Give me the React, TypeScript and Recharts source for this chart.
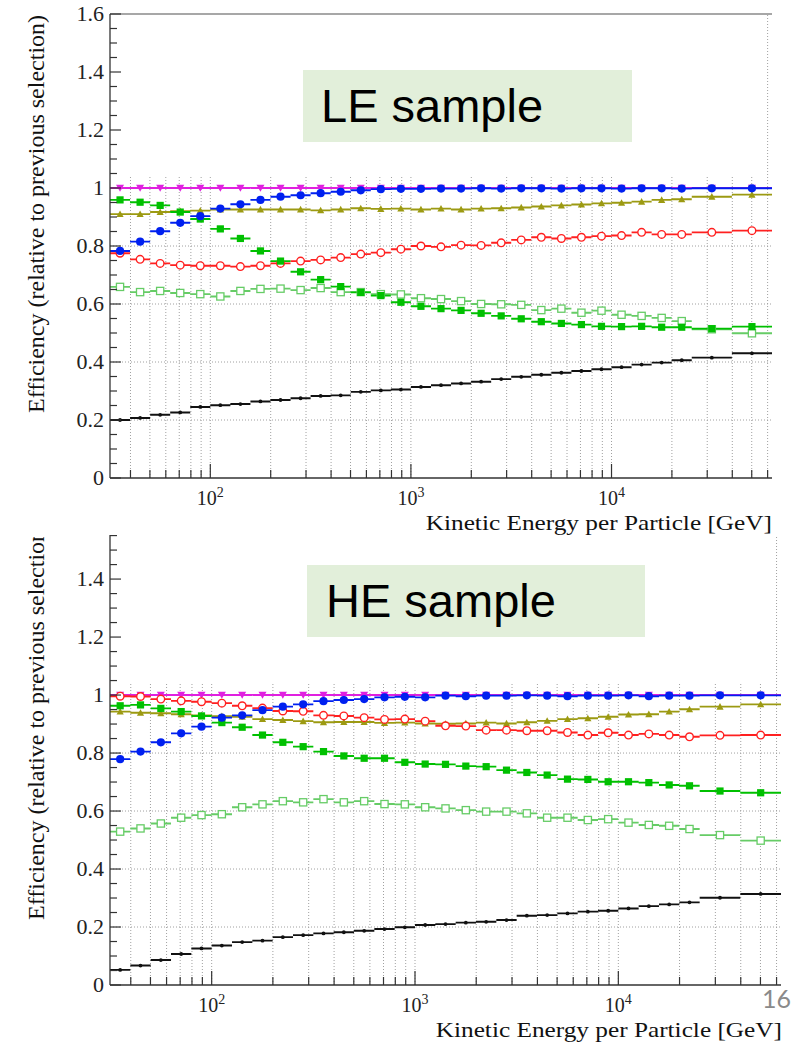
import React from 'react';
import { ComposedChart, Line, Scatter, XAxis, YAxis, ReferenceLine } from 'recharts';

// energy bins [GeV]: 0.1 decade wide, the last two are 0.2 decade wide
const BIN_EDGES = [
  31.62, 39.81, 50.12, 63.1, 79.43, 100, 125.9, 158.5, 199.5, 251.2, 316.2, 398.1, 501.2, 631.0, 794.3,
  1000, 1259, 1585, 1995, 2512, 3162, 3981, 5012, 6310, 7943, 10000, 12589, 15849, 19953, 25119, 39811, 63096,
];
const X_MIN = 31.62;
const X_MAX = 63096;

const X_TICKS = [
  40, 50, 60, 70, 80, 90, 100, 200, 300, 400, 500, 600, 700, 800, 900, 1000, 2000, 3000, 4000, 5000,
  6000, 7000, 8000, 9000, 10000, 20000, 30000, 40000, 50000, 60000,
];
const Y_TICKS_LE = [
  0, 0.05, 0.1, 0.15, 0.2, 0.25, 0.3, 0.35, 0.4, 0.45, 0.5, 0.55, 0.6, 0.65, 0.7, 0.75, 0.8, 0.85, 0.9,
  0.95, 1, 1.05, 1.1, 1.15, 1.2, 1.25, 1.3, 1.35, 1.4, 1.45, 1.5, 1.55, 1.6,
];
const Y_TICKS_HE = [
  0, 0.05, 0.1, 0.15, 0.2, 0.25, 0.3, 0.35, 0.4, 0.45, 0.5, 0.55, 0.6, 0.65, 0.7, 0.75, 0.8, 0.85, 0.9,
  0.95, 1, 1.05, 1.1, 1.15, 1.2, 1.25, 1.3, 1.35, 1.4, 1.45, 1.5, 1.55,
];
const GRID_Y = [0.2, 0.4, 0.6, 0.8, 1];
const GRID_TOP = 1.04;

// LE sample
const LE_MAGENTA = [1, 1, 1, 1, 1, 1, 1, 1, 1, 1, 1, 1, 1, 1, 1, 1, 1, 1, 1, 1, 1, 1, 1, 1, 1, 1, 1, 1, 1, 1, 1];
const LE_BLUE = [0.783, 0.815, 0.851, 0.88, 0.903, 0.929, 0.944, 0.959, 0.97, 0.975, 0.982, 0.987, 0.992, 0.996, 0.997, 0.997, 0.998, 0.998, 0.999, 0.998, 0.999, 0.999, 0.998, 0.999, 0.999, 0.998, 0.999, 0.999, 0.998, 0.999, 0.999];
const LE_OLIVE = [0.91, 0.91, 0.917, 0.92, 0.922, 0.926, 0.926, 0.926, 0.926, 0.926, 0.923, 0.926, 0.93, 0.928, 0.929, 0.926, 0.929, 0.926, 0.929, 0.93, 0.933, 0.936, 0.94, 0.943, 0.947, 0.949, 0.953, 0.959, 0.961, 0.97, 0.977];
const LE_RED = [0.775, 0.754, 0.74, 0.734, 0.732, 0.732, 0.729, 0.732, 0.74, 0.748, 0.752, 0.76, 0.772, 0.777, 0.789, 0.8, 0.797, 0.803, 0.802, 0.811, 0.821, 0.83, 0.826, 0.83, 0.834, 0.836, 0.847, 0.84, 0.84, 0.847, 0.853];
const LE_GREEN = [0.959, 0.951, 0.94, 0.917, 0.893, 0.859, 0.826, 0.783, 0.748, 0.711, 0.684, 0.66, 0.64, 0.629, 0.606, 0.592, 0.584, 0.578, 0.568, 0.559, 0.549, 0.539, 0.533, 0.529, 0.523, 0.522, 0.523, 0.52, 0.52, 0.515, 0.522];
const LE_LIGHTGREEN = [0.659, 0.641, 0.645, 0.638, 0.634, 0.626, 0.645, 0.652, 0.653, 0.648, 0.655, 0.641, 0.641, 0.634, 0.633, 0.62, 0.617, 0.61, 0.6, 0.599, 0.597, 0.579, 0.584, 0.57, 0.577, 0.563, 0.559, 0.552, 0.541, 0.513, 0.499];
const LE_BLACK = [0.2, 0.207, 0.218, 0.226, 0.245, 0.251, 0.255, 0.264, 0.269, 0.275, 0.283, 0.285, 0.297, 0.302, 0.305, 0.314, 0.32, 0.326, 0.332, 0.341, 0.349, 0.356, 0.363, 0.369, 0.375, 0.382, 0.391, 0.398, 0.406, 0.415, 0.43];

// HE sample
const HE_MAGENTA = [1, 1, 1, 1, 1, 1, 1, 1, 1, 1, 1, 1, 1, 1, 1, 1, 1, 1, 1, 1, 1, 1, 1, 1, 1, 1, 1, 1, 1, 1, 1];
const HE_BLUE = [0.779, 0.805, 0.837, 0.868, 0.891, 0.922, 0.93, 0.948, 0.96, 0.968, 0.979, 0.983, 0.986, 0.992, 0.994, 0.992, 0.998, 0.996, 0.998, 0.998, 0.999, 0.998, 0.996, 0.998, 0.998, 0.999, 0.996, 0.998, 0.998, 0.999, 0.999];
const HE_OLIVE = [0.943, 0.939, 0.937, 0.934, 0.93, 0.927, 0.925, 0.917, 0.914, 0.91, 0.906, 0.907, 0.907, 0.904, 0.905, 0.902, 0.901, 0.902, 0.905, 0.902, 0.906, 0.911, 0.917, 0.92, 0.925, 0.933, 0.934, 0.943, 0.951, 0.96, 0.968];
const HE_RED = [0.996, 0.995, 0.986, 0.98, 0.977, 0.972, 0.963, 0.955, 0.945, 0.944, 0.93, 0.928, 0.922, 0.916, 0.917, 0.91, 0.894, 0.893, 0.879, 0.879, 0.877, 0.877, 0.871, 0.862, 0.87, 0.862, 0.866, 0.862, 0.856, 0.861, 0.862];
const HE_GREEN = [0.963, 0.966, 0.954, 0.943, 0.928, 0.905, 0.889, 0.862, 0.837, 0.822, 0.805, 0.79, 0.782, 0.782, 0.768, 0.762, 0.761, 0.755, 0.753, 0.741, 0.733, 0.724, 0.71, 0.709, 0.701, 0.701, 0.698, 0.69, 0.687, 0.669, 0.663];
const HE_LIGHTGREEN = [0.529, 0.54, 0.557, 0.577, 0.586, 0.589, 0.613, 0.623, 0.634, 0.63, 0.641, 0.63, 0.634, 0.624, 0.623, 0.613, 0.609, 0.603, 0.598, 0.598, 0.592, 0.577, 0.577, 0.569, 0.572, 0.56, 0.552, 0.549, 0.538, 0.517, 0.498];
const HE_BLACK = [0.052, 0.067, 0.086, 0.107, 0.126, 0.136, 0.148, 0.153, 0.165, 0.172, 0.178, 0.182, 0.187, 0.193, 0.199, 0.207, 0.21, 0.215, 0.218, 0.224, 0.239, 0.241, 0.247, 0.253, 0.256, 0.264, 0.272, 0.278, 0.285, 0.301, 0.314];

type MarkerKind = 'triDown' | 'circle' | 'triUp' | 'openCircle' | 'square' | 'openSquare' | 'dot';

interface Series {
  name: string;
  values: number[];
  color: string;
  marker: MarkerKind;
}

const SERIF = '"Liberation Serif", "DejaVu Serif", serif';
const SANS = '"Liberation Sans", Arial, sans-serif';
const AXIS = '#333';
const FRAME = '#8a8a8a';

function makeSeries(m: number[], b: number[], o: number[], r: number[], lg: number[], g: number[], k: number[]): Series[] {
  return [
    { name: 'magenta', values: m, color: '#e020e0', marker: 'triDown' },
    { name: 'olive', values: o, color: '#9c9a12', marker: 'triUp' },
    { name: 'red', values: r, color: '#ff2020', marker: 'openCircle' },
    { name: 'lightgreen', values: lg, color: '#66cc66', marker: 'openSquare' },
    { name: 'green', values: g, color: '#00c000', marker: 'square' },
    { name: 'blue', values: b, color: '#0020f0', marker: 'circle' },
    { name: 'black', values: k, color: '#111111', marker: 'dot' },
  ];
}

const LE_SERIES = makeSeries(LE_MAGENTA, LE_BLUE, LE_OLIVE, LE_RED, LE_LIGHTGREEN, LE_GREEN, LE_BLACK);
const HE_SERIES = makeSeries(HE_MAGENTA, HE_BLUE, HE_OLIVE, HE_RED, HE_LIGHTGREEN, HE_GREEN, HE_BLACK);

// horizontal bar across each bin, broken between bins
function segments(values: number[]) {
  const out: { x: number; y: number | null }[] = [];
  values.forEach((v, i) => {
    out.push({ x: BIN_EDGES[i], y: v });
    out.push({ x: BIN_EDGES[i + 1], y: v });
    out.push({ x: BIN_EDGES[i + 1], y: null });
  });
  return out;
}

function centres(values: number[]) {
  return values.map((v, i) => ({ x: Math.sqrt(BIN_EDGES[i] * BIN_EDGES[i + 1]), y: v }));
}

function makeMarker(kind: MarkerKind, color: string) {
  return (props: any) => {
    const { cx, cy } = props;
    if (cx == null || cy == null) return <g />;
    switch (kind) {
      case 'triDown':
        return <polygon points={`${cx - 4},${cy - 3.2} ${cx + 4},${cy - 3.2} ${cx},${cy + 3.8}`} fill={color} />;
      case 'triUp':
        return <polygon points={`${cx - 3.6},${cy + 3} ${cx + 3.6},${cy + 3} ${cx},${cy - 3.6}`} fill={color} />;
      case 'circle':
        return <circle cx={cx} cy={cy} r={4.1} fill={color} />;
      case 'openCircle':
        return <circle cx={cx} cy={cy} r={3.8} fill="#fff" stroke={color} strokeWidth={1.4} />;
      case 'square':
        return <rect x={cx - 3.6} y={cy - 3.6} width={7.2} height={7.2} fill={color} />;
      case 'openSquare':
        return <rect x={cx - 3.6} y={cy - 3.6} width={7.2} height={7.2} fill="#fff" stroke={color} strokeWidth={1.3} />;
      default:
        return <circle cx={cx} cy={cy} r={1.9} fill={color} />;
    }
  };
}

function XTick(props: any) {
  const { x, y, payload } = props;
  const exp = Math.log10(payload.value);
  const major = Math.abs(exp - Math.round(exp)) < 1e-9;
  return (
    <g>
      <line x1={x} x2={x} y1={y} y2={y - (major ? 14 : 8)} stroke={AXIS} strokeWidth={1.2} />
      {major && (
        <text x={x} y={y + 27} textAnchor="middle" fontFamily={SERIF} fontSize={20} fill="#222">
          10
          <tspan dy={-8} fontSize={14}>
            {Math.round(exp)}
          </tspan>
        </text>
      )}
    </g>
  );
}

function YTick(props: any) {
  const { x, y, payload } = props;
  const v = payload.value;
  const major = Math.abs(v * 5 - Math.round(v * 5)) < 1e-6;
  return (
    <g>
      <line x1={x} x2={x + (major ? 11 : 7)} y1={y} y2={y} stroke={AXIS} strokeWidth={1.2} />
      {major && (
        <text x={x - 6} y={y + 7} textAnchor="end" fontFamily={SERIF} fontSize={22} fill="#222">
          {String(v)}
        </text>
      )}
    </g>
  );
}

// small inward ticks on the right frame
function RightTick(props: any) {
  const { x, y, payload } = props;
  const v = payload.value;
  const major = Math.abs(v * 5 - Math.round(v * 5)) < 1e-6;
  if (!major) return <g />;
  return <line x1={x} x2={x - 6} y1={y} y2={y} stroke={FRAME} strokeWidth={1} />;
}

interface PanelProps {
  series: Series[];
  yMax: number;
  yTicks: number[];
  height: number;
  margin: { top: number; right: number; bottom: number; left: number };
  topFrame: boolean;
}

function Panel({ series, yMax, yTicks, height, margin, topFrame }: PanelProps) {
  return (
    <ComposedChart width={805} height={height} margin={margin}>
      <XAxis
        dataKey="x"
        type="number"
        scale="log"
        domain={[X_MIN, X_MAX]}
        allowDataOverflow
        ticks={X_TICKS}
        interval={0}
        tick={(p: any) => <XTick {...p} />}
        tickSize={0}
        tickMargin={0}
        tickLine={false}
        axisLine={{ stroke: AXIS, strokeWidth: 1.3 }}
        height={30}
      />
      <YAxis
        dataKey="y"
        type="number"
        domain={[0, yMax]}
        allowDataOverflow
        ticks={yTicks}
        interval={0}
        tick={(p: any) => <YTick {...p} />}
        tickSize={0}
        tickMargin={0}
        tickLine={false}
        axisLine={{ stroke: AXIS, strokeWidth: 1.3 }}
        width={60}
      />
      <YAxis
        yAxisId="right"
        orientation="right"
        type="number"
        domain={[0, yMax]}
        allowDataOverflow
        ticks={yTicks}
        interval={0}
        tick={(p: any) => <RightTick {...p} />}
        tickSize={0}
        tickMargin={0}
        tickLine={false}
        axisLine={{ stroke: FRAME, strokeWidth: 1.5 }}
        width={0}
      />

      {/* dotted grid, only up to just above 1 */}
      {X_TICKS.map((t) => (
        <ReferenceLine
          key={`gx${t}`}
          segment={[
            { x: t, y: 0 },
            { x: t, y: t === 60000 ? yMax : GRID_TOP },
          ]}
          stroke="#a0a0a0"
          strokeDasharray="1 2"
          ifOverflow="visible"
        />
      ))}
      {GRID_Y.map((g) => (
        <ReferenceLine key={`gy${g}`} y={g} stroke="#a0a0a0" strokeDasharray="1 2" ifOverflow="visible" />
      ))}

      {topFrame && <ReferenceLine y={yMax} stroke={FRAME} strokeWidth={1.5} ifOverflow="visible" />}

      {series.map((s) => (
        <Line
          key={`l-${s.name}`}
          data={segments(s.values)}
          dataKey="y"
          type="linear"
          stroke={s.color}
          strokeWidth={1.9}
          dot={false}
          activeDot={false}
          connectNulls={false}
          isAnimationActive={false}
          legendType="none"
        />
      ))}
      {series.map((s) => (
        <Scatter
          key={`s-${s.name}`}
          data={centres(s.values)}
          dataKey="y"
          shape={makeMarker(s.marker, s.color)}
          isAnimationActive={false}
          legendType="none"
        />
      ))}
    </ComposedChart>
  );
}

const Y_TITLE = 'Efficiency (relative to previous selection)';
const X_TITLE = 'Kinetic Energy per Particle [GeV]';

export default function App() {
  return (
    <div style={{ position: 'absolute', left: 0, top: 0, width: 805, height: 1043, background: '#fff', overflow: 'hidden' }}>
      <div style={{ position: 'absolute', left: 0, top: 0 }}>
        <Panel
          series={LE_SERIES}
          yMax={1.6}
          yTicks={Y_TICKS_LE}
          height={520}
          margin={{ top: 14, right: 33, bottom: 12, left: 50 }}
          topFrame
        />
      </div>
      <div style={{ position: 'absolute', left: 0, top: 520 }}>
        <Panel
          series={HE_SERIES}
          yMax={1.552}
          yTicks={Y_TICKS_HE}
          height={523}
          margin={{ top: 15, right: 24, bottom: 28, left: 50 }}
          topFrame={false}
        />
      </div>

      <svg width={805} height={1043} style={{ position: 'absolute', left: 0, top: 0, pointerEvents: 'none' }}>
        <defs>
          <clipPath id="heTitleClip">
            <rect x={0} y={537} width={100} height={500} />
          </clipPath>
        </defs>

        {/* axis titles */}
        <text transform="translate(44,413) rotate(-90)" fontFamily={SERIF} fontSize={24} fill="#111">
          {Y_TITLE}
        </text>
        <g clipPath="url(#heTitleClip)">
          <text transform="translate(44,920) rotate(-90)" fontFamily={SERIF} fontSize={24} fill="#111">
            {Y_TITLE}
          </text>
        </g>
        <text transform="translate(772,530) scale(1.15,1)" textAnchor="end" fontFamily={SERIF} fontSize={22} fill="#111">
          {X_TITLE}
        </text>
        <text transform="translate(782,1037) scale(1.15,1)" textAnchor="end" fontFamily={SERIF} fontSize={22} fill="#111">
          {X_TITLE}
        </text>

        {/* sample labels */}
        <rect x={303} y={70} width={329} height={72} fill="#e2efda" />
        <text x={321} y={122} fontFamily={SANS} fontSize={47} fill="#000">
          LE sample
        </text>
        <rect x={307} y={565} width={338} height={72} fill="#e2efda" />
        <text x={326} y={617} fontFamily={SANS} fontSize={47} fill="#000">
          HE sample
        </text>

        {/* slide number */}
        <text x={762} y={1008} fontFamily="Lato, 'Open Sans', sans-serif" fontSize={25} fill="#8a8a8a">
          16
        </text>
      </svg>
    </div>
  );
}
